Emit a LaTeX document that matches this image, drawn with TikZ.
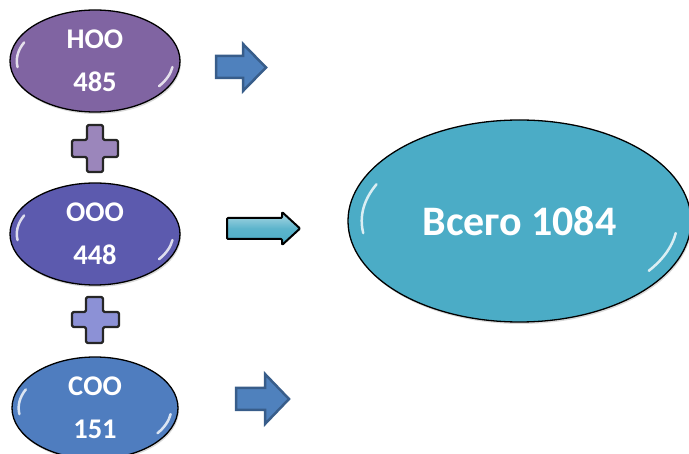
\documentclass[tikz,border=0pt]{standalone}
\usepackage{fontspec}
\setmainfont{Carlito}
\usetikzlibrary{shapes.geometric,shadows}
\definecolor{cNOO}{HTML}{8064A2}
\definecolor{cOOO}{HTML}{5C5AAE}
\definecolor{cSOO}{HTML}{4F7DBF}
\definecolor{cAll}{HTML}{4BACC6}
\definecolor{cPlusA}{HTML}{9B86BB}
\definecolor{cPlusB}{HTML}{8C91D6}
\definecolor{cArrFill}{HTML}{4F81BD}
\definecolor{cArrLine}{HTML}{385D8A}
\newcommand\glint[3]{%
  \draw[glintstyle] ([shift={(155:{#2*0.92pt} and {#3*0.86pt})}]#1.center) arc[start angle=155, end angle=188, x radius={#2*0.92pt}, y radius={#3*0.86pt}];
  \draw[glintstyle] ([shift={(-35:{#2*0.92pt} and {#3*0.86pt})}]#1.center) arc[start angle=-35, end angle=-8, x radius={#2*0.92pt}, y radius={#3*0.86pt}];
}
\begin{document}
\begin{tikzpicture}[x=1pt,y=-1pt,
  oval/.style={ellipse, draw=black, line width=1.3pt, inner sep=0pt, text=white,
    font=\bfseries\fontsize{28.5}{43}\selectfont, align=center,
    drop shadow={shadow xshift=1pt,shadow yshift=-2pt,opacity=0.3}},
  glintstyle/.style={white, line width=2.5pt, line cap=round, opacity=0.8},
  plusstyle/.style={draw=black!85, line width=2.2pt, rounded corners=1.5pt, line join=round},
  blockarrow/.style={draw=cArrLine, fill=cArrFill, line width=2.5pt, line join=miter},
  cyanarrow/.style={draw=black, line width=2pt, line join=round, rounded corners=1pt,
    top color=cAll!45!white, bottom color=cAll, middle color=cAll!90!white}]
\useasboundingbox (0,0) rectangle (689,454);
% ovals
\node[oval, fill=cNOO, minimum width=170pt, minimum height=102pt] (noo) at (95,61) {НОО\\485};
\node[oval, fill=cOOO, minimum width=170pt, minimum height=102pt] (ooo) at (95,234) {ООО\\448};
\node[oval, fill=cSOO, minimum width=166pt, minimum height=102pt] (soo) at (95,408) {СОО\\151};
\node[oval, fill=cAll, minimum width=343pt, minimum height=202pt,
  font=\bfseries\fontsize{42}{48}\selectfont] (all) at (519.5,221) {Всего 1084};
\glint{noo}{85}{51}
\glint{ooo}{85}{51}
\glint{soo}{83}{51}
\glint{all}{171.5}{101}
% plus signs
\draw[plusstyle, fill=cPlusA] (87,125) -- (103,125) -- (103,140) -- (118,140) -- (118,157) -- (103,157)
  -- (103,172) -- (87,172) -- (87,157) -- (72,157) -- (72,140) -- (87,140) -- cycle;
\draw[plusstyle, fill=cPlusB] (86,297) -- (103,297) -- (103,312) -- (119,312) -- (119,327) -- (103,327)
  -- (103,343) -- (86,343) -- (86,327) -- (72,327) -- (72,312) -- (86,312) -- cycle;
% arrows
\draw[blockarrow] (216,56) -- (243,56) -- (243,44) -- (266,67.5) -- (243,91) -- (243,78) -- (216,78) -- cycle;
\draw[cyanarrow] (227,218) -- (282,218) -- (282,212) -- (300,228.5) -- (282,245) -- (282,239) -- (227,239) -- cycle;
\draw[blockarrow] (236,388) -- (265,388) -- (265,374) -- (289,399) -- (265,424) -- (265,410) -- (236,410) -- cycle;
\end{tikzpicture}
\end{document}
